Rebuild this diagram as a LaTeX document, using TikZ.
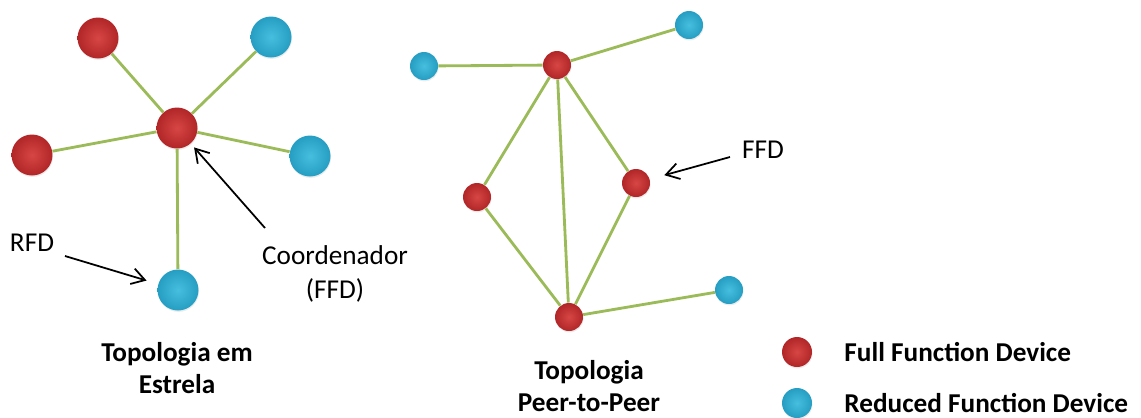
\documentclass[tikz,border=0pt]{standalone}
\usepackage{fontspec}
\setmainfont{Carlito}
\usepackage{xcolor}
\usepackage{tikz}
\usetikzlibrary{shapes.geometric, arrows.meta, positioning, shadows}
\definecolor{ffdlight}{RGB}{214,70,68}
\definecolor{ffddark}{RGB}{178,38,40}
\definecolor{rfdlight}{RGB}{70,190,222}
\definecolor{rfddark}{RGB}{38,158,195}
\definecolor{linkgreen}{RGB}{155,187,89}
\tikzstyle{ffd} = [circle, inner sep=0pt, minimum size=0.8cm, shading=radial, inner color=ffdlight, outer color=ffddark, drop shadow={opacity=0.15, shadow xshift=0.3pt, shadow yshift=-0.8pt}]
\tikzstyle{rfd} = [circle, inner sep=0pt, minimum size=0.8cm, shading=radial, inner color=rfdlight, outer color=rfddark, drop shadow={opacity=0.15, shadow xshift=0.3pt, shadow yshift=-0.8pt}]
\tikzstyle{link} = [line width=1.6pt, draw=linkgreen]
\tikzstyle{arrow} = [line width=1pt,->,>={Straight Barb[length=2.6mm,width=3.2mm]}]

\begin{document}
\begin{tikzpicture}[x=0.02cm, y=-0.02cm]
    \tikzset{star/.style = {minimum size=0.82cm},
    peer/.style = {minimum size=0.56cm},
    legend/.style = {minimum size=0.6cm},
    notetext/.style = {font=\fontsize{15.5}{19.5}\selectfont, align=center, inner sep=1pt},
    titletext/.style = {font=\fontsize{15.5}{18.5}\selectfont\bfseries, align=center, inner sep=1pt}}
\useasboundingbox (0,0) rectangle (1141,417);

% estrela
\node (coord) [ffd, star] at (177,128) {};
\node (sa) [ffd, star] at (98,38) {};
\node (sb) [rfd, star] at (271,37) {};
\node (sc) [ffd, star] at (32,155) {};
\node (sd) [rfd, star] at (310,156) {};
\node (se) [rfd, star] at (178,290) {};
\foreach \n in {sa,sb,sc,sd,se}
    \draw [link] (coord) -- (\n);

\node (rfdtxt) [notetext] at (32,243) {RFD};
\coordinate (rfdtail) at (65,256);
\draw [arrow, shorten >=0.24cm] (rfdtail) -- (se);

\node (coordtxt) [notetext] at (335,274) {Coordenador\\(FFD)};
\coordinate (coordtail) at (265,228);
\draw [arrow, shorten >=0.1cm] (coordtail) -- (coord);

\node (startitle) [titletext] at (177,368) {Topologia em\\Estrela};

% peer-to-peer
\node (pa) [ffd, peer] at (557,65) {};
\node (pb) [rfd, peer] at (424,66) {};
\node (pc) [rfd, peer] at (689,25) {};
\node (pd) [ffd, peer] at (477,197) {};
\node (pe) [ffd, peer] at (636,183) {};
\node (pf) [ffd, peer] at (569,317) {};
\node (pg) [rfd, peer] at (729,290) {};
\foreach \a/\b in {pa/pb, pa/pc, pa/pd, pa/pe, pa/pf, pd/pf, pe/pf, pf/pg}
    \draw [link] (\a) -- (\b);

\node (ffdtxt) [notetext] at (763,150) {FFD};
\coordinate (ffdtail) at (730,157);
\draw [arrow, shorten >=0.3cm] (ffdtail) -- (pe);

\node (peertitle) [titletext] at (589,386) {Topologia\\Peer-to-Peer};

% legenda
\node (legffd) [ffd, legend] at (797,352) {};
\node (legrfd) [rfd, legend] at (797,403) {};
\node (legffdtxt) [titletext, right=0.6cm of legffd] {Full Function Device};
\node (legrfdtxt) [titletext, right=0.6cm of legrfd] {Reduced Function Device};

\end{tikzpicture}
\end{document}
